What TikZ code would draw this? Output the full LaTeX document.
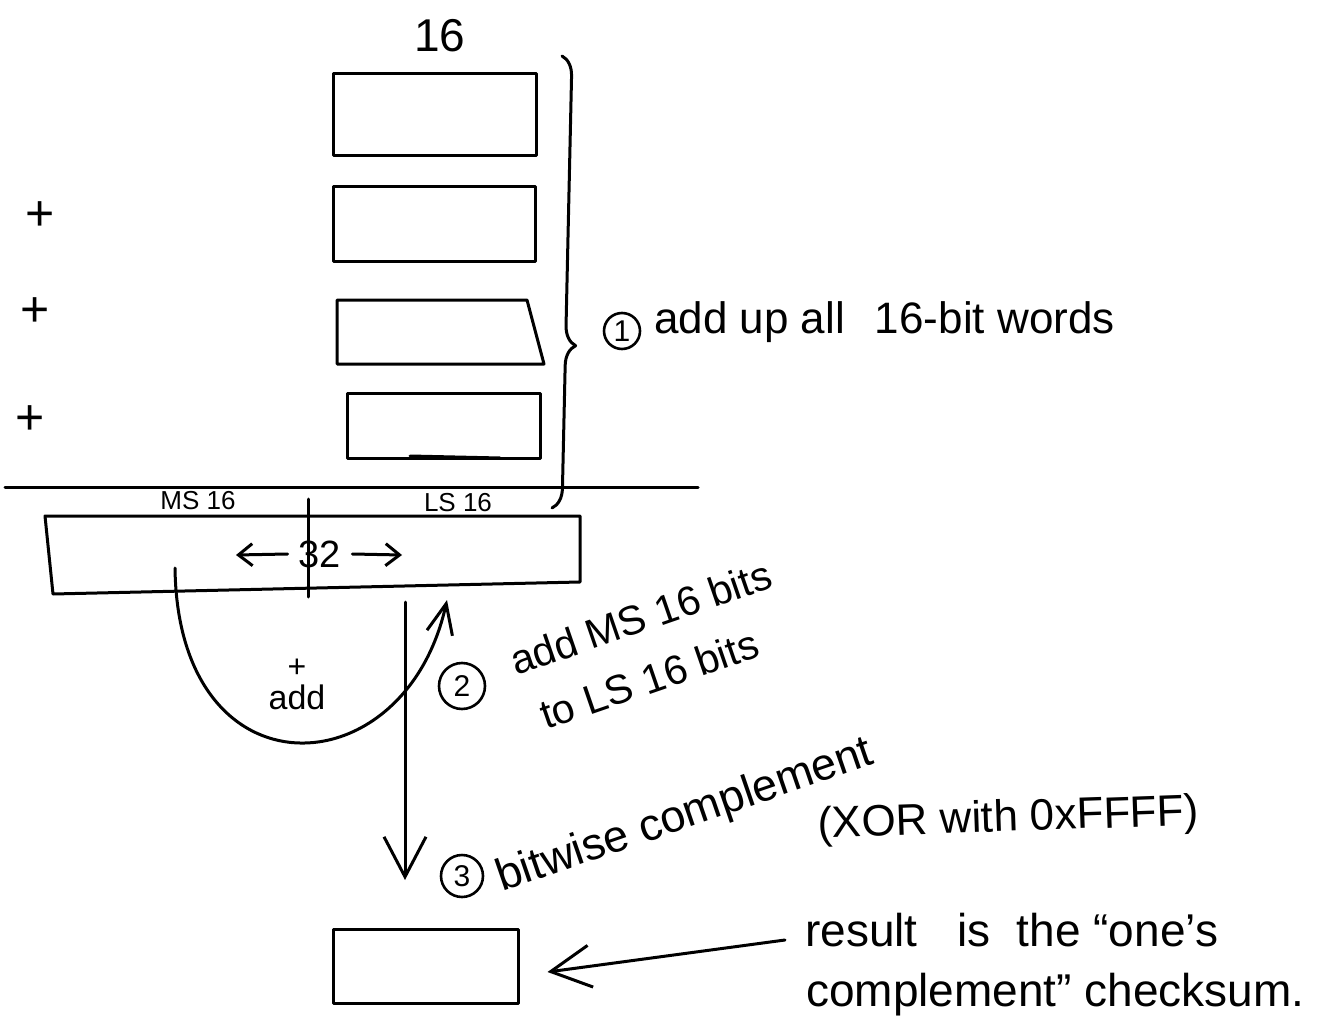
\documentclass[tikz,border=0pt]{standalone}
\usepackage{fontspec}
\setmainfont{Liberation Sans}
\usetikzlibrary{arrows.meta,decorations.pathreplacing}
\begin{document}
\begin{tikzpicture}[x=1pt,y=-1pt,
  pen/.style={line width=3pt,line cap=round,line join=round},
  bigtip/.style={-{Straight Barb[length=40pt,width=42pt,line width=3pt]}},
  midtip/.style={-{Straight Barb[length=30pt,width=26pt,line width=3pt]}},
  smalltip/.style={-{Straight Barb[length=14pt,width=22pt,line width=3pt]}},
  hand/.style={inner sep=0pt,font=\fontsize{44}{50}\selectfont},
  small/.style={inner sep=0pt,font=\fontsize{26}{30}\selectfont},
  wordbox/.style={draw,pen,rectangle,inner sep=0pt},
  num/.style={draw,circle,line width=2.6pt,inner sep=0pt,font=\fontsize{30}{32}\selectfont}]
\useasboundingbox (0,0) rectangle (1338,1032);
\fill[white] (0,0) rectangle (1338,1032);

% header
\node[hand,font=\fontsize{46}{50}\selectfont] (w16) at (440,36) {16};

% words
\node[wordbox,minimum width=203pt,minimum height=82pt] (w1) at (434.5,115) {};
\node[wordbox,minimum width=202pt,minimum height=75pt] (w2) at (434,224.5) {};
\coordinate (t1) at (337,300); \coordinate (t2) at (527,300);
\coordinate (t3) at (544,364); \coordinate (t4) at (337,364);
\draw[pen] (t1) -- (t2) -- (t3) -- (t4) -- cycle;
\node[wordbox,minimum width=193pt,minimum height=65pt] (w4) at (443.5,425.5) {};
\coordinate (s1) at (410,456); \coordinate (s2) at (500,458);
\draw[pen] (s1) -- (s2);

% plus signs
\node[hand,font=\fontsize{50}{54}\selectfont] (p1) at (40,216) {+};
\node[hand,font=\fontsize{50}{54}\selectfont] (p2) at (35,312) {+};
\node[hand,font=\fontsize{50}{54}\selectfont] (p3) at (30,420) {+};

% brace
\coordinate (bt) at (562,56); \coordinate (bb) at (552,508);
\draw[pen,decorate,decoration={brace,amplitude=20pt,aspect=0.64}] (bt) -- (bb);
\node[num,minimum size=36pt] (c1) at (622,331) {1};
\node[hand,anchor=base west] (l1) at (654,333) {add up all\hspace{30pt}16-bit words};

% sum line
\coordinate (h1) at (5,487); \coordinate (h2) at (698,487);
\draw[pen] (h1) -- (h2);
\node[small] (ms) at (198,501) {MS 16};
\node[small] (ls) at (458,503) {LS 16};

% 32-bit result
\coordinate (b1) at (45,516); \coordinate (b2) at (580,516);
\coordinate (b3) at (580,582); \coordinate (b4) at (53,594);
\draw[pen] (b1) -- (b2) -- (b3) -- (b4) -- cycle;
\coordinate (d1) at (308,499); \coordinate (d2) at (308,597);
\draw[pen] (d1) -- (d2);
\node[hand,font=\fontsize{38}{42}\selectfont,inner xsep=11pt] (n32) at (320,554) {32};
\coordinate (al) at (236,555); \coordinate (ar) at (402,555);
\draw[pen,smalltip] (n32.west) -- (al);
\draw[pen,smalltip] (n32.east) -- (ar);

% add curve
\coordinate (cs) at (175,568); \coordinate (ce) at (447,600);
\draw[pen,midtip] (cs) .. controls (178,800) and (405,790) .. (ce);
\node[hand,font=\fontsize{32}{36}\selectfont] (plus) at (297,668) {+};
\node[hand,font=\fontsize{34}{38}\selectfont] (addl) at (297,697) {add};

% step 2
\node[num,minimum size=46pt] (c2) at (462,686) {2};
\node[hand,anchor=base west,rotate=19,font=\fontsize{41}{46}\selectfont] (l2a) at (516,676) {add MS 16 bits};
\node[hand,anchor=base west,rotate=19,font=\fontsize{41}{46}\selectfont] (l2b) at (546,730) {to LS 16 bits};

% down arrow
\coordinate (v1) at (405,602); \coordinate (v2) at (405,880);
\draw[pen,bigtip] (v1) -- (v2);

% step 3
\node[num,minimum size=42pt] (c3) at (462,876) {3};
\node[hand,anchor=base west,rotate=19,font=\fontsize{45}{50}\selectfont] (l3a) at (502,892) {bitwise complement};
\node[hand,anchor=base west,rotate=2,font=\fontsize{44}{48}\selectfont] (l3b) at (818,838) {(XOR with 0xFFFF)};

% result
\node[wordbox,minimum width=185pt,minimum height=74pt] (res) at (425.5,966) {};
\coordinate (rt) at (785,940);
\draw[pen,bigtip] (rt) -- ([xshift=28pt,yshift=-6pt]res.east);
\node[hand,anchor=base west,font=\fontsize{46}{50}\selectfont] (r1) at (805,946) {result\hspace{40pt}is\hspace{26pt}the ``one's};
\node[hand,anchor=base west,font=\fontsize{46}{50}\selectfont] (r2) at (806,1006) {complement'' checksum.};
\end{tikzpicture}
\end{document}
